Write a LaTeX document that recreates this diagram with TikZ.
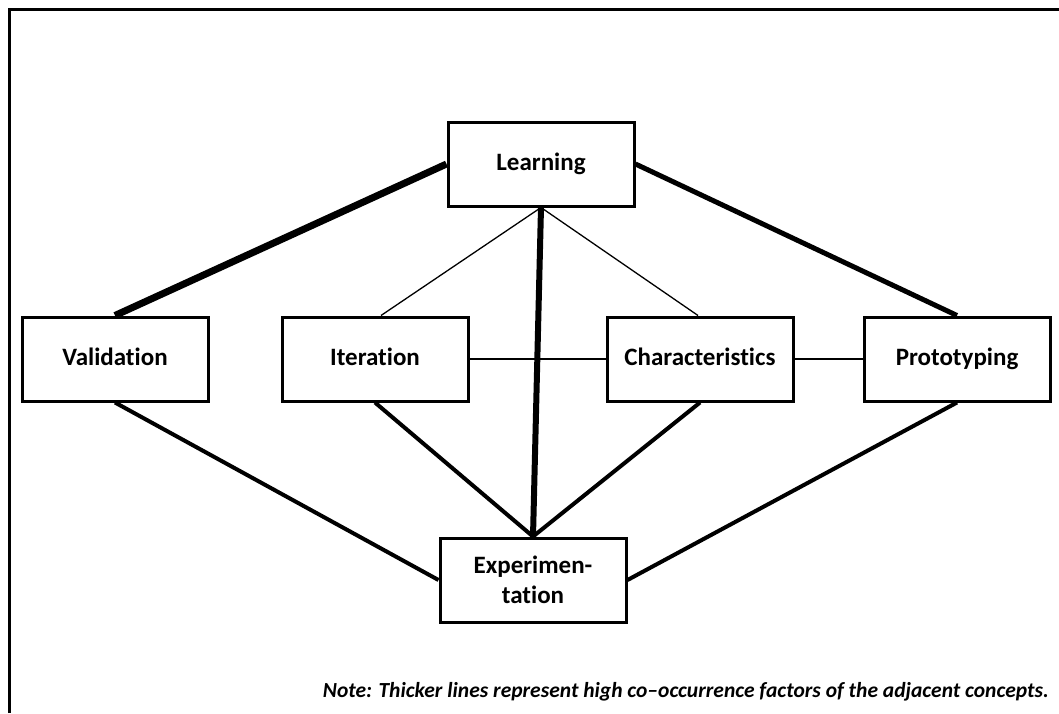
\documentclass[tikz,border=0pt]{standalone}
\usepackage{fontspec}
\setmainfont[Ligatures=NoCommon]{Carlito}
\begin{document}
\begin{tikzpicture}[x=1pt,y=-1pt,
  concept/.style={draw, line width=3pt, minimum width=186pt, minimum height=84pt, inner sep=0pt, font=\fontsize{25}{30}\selectfont\bfseries, align=center, fill=white},
  oneline/.style={text height=17pt, text depth=5pt},
  thinline/.style={line width=1.3pt},
  medline/.style={line width=4pt},
  thickline/.style={line width=5pt},
  heavyline/.style={line width=7pt}]
\useasboundingbox (0,0) rectangle (1059,713);
\fill[white] (0,0) rectangle (1059,713);
\coordinate (fb) at (9.5,713);
\coordinate (fc) at (9.5,9.5);
\coordinate (fr) at (1059,9.5);
\draw[line width=3.5pt] (fb) -- (fc) -- (fr);

\path (541,164) coordinate (Lc) (115,359) coordinate (Vc) (375,359) coordinate (Ic)
      (700,359) coordinate (Cc) (957,359) coordinate (Pc) (533,580) coordinate (Ec);
\path[concept, draw=none, fill=none]
  node[concept, oneline] (L) at (Lc) {}
  node[concept, oneline] (V) at (Vc) {}
  node[concept, oneline] (I) at (Ic) {}
  node[concept, oneline] (C) at (Cc) {}
  node[concept, oneline] (P) at (Pc) {}
  node[concept] (E) at (Ec) {};

\draw[heavyline] (L.west) -- (V.north);
\draw[thickline] (L.east) -- (P.north);
\draw[thinline] (L.south) -- ([xshift=6pt]I.north);
\draw[thinline] (L.south) -- ([xshift=-2pt]C.north);
\draw[heavyline, line width=6pt] (L.south) -- (E.north);
\draw[thinline] (I.east) -- (C.west);
\draw[thinline] (C.east) -- (P.west);
\draw[medline] (V.south) -- (E.west);
\draw[medline] (I.south) -- (E.north);
\draw[medline] (C.south) -- (E.north);
\draw[medline] (P.south) -- (E.east);

\node[concept, oneline] (Lt) at (L) {Learning};
\node[concept, oneline] (Vt) at (V) {Validation};
\node[concept, oneline] (It) at (I) {Iteration};
\node[concept, oneline] (Ct) at (C) {Characteristics};
\node[concept, oneline] (Pt) at (P) {Prototyping};
\node[concept] (Et) at (E) {Experimen-\\tation};

\node[anchor=base east, inner sep=0pt, font=\fontsize{21.5}{25}\selectfont\bfseries\itshape] (note) at (1049,697) {Note: Thicker lines represent high co–occurrence factors of the adjacent concepts.};
\end{tikzpicture}
\end{document}
